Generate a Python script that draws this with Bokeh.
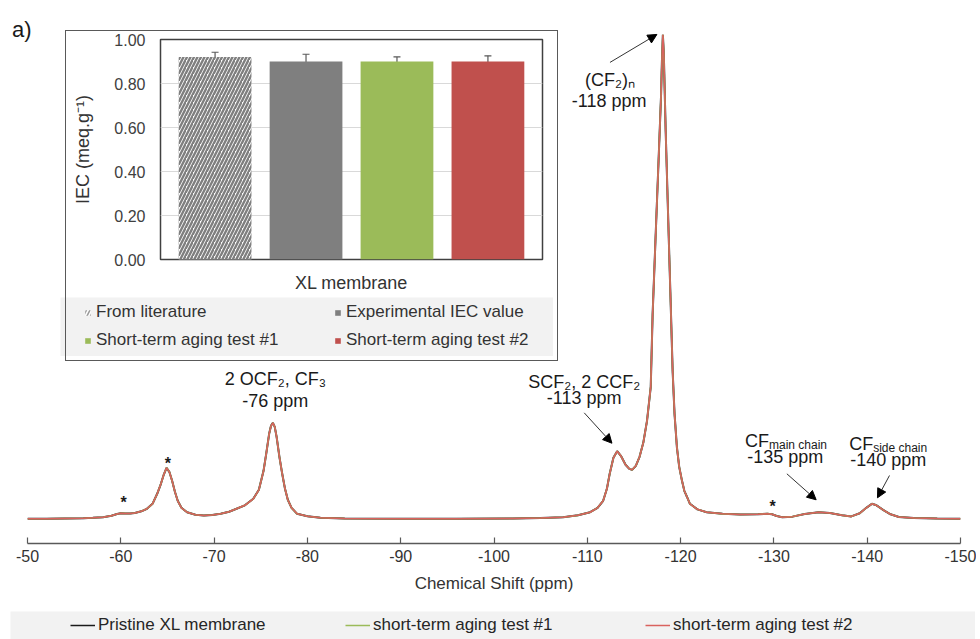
from bokeh.plotting import figure
from bokeh.models import (Range1d, FixedTicker, Label, Arrow, NormalHead, Whisker, TeeHead,
                          ColumnDataSource, Legend, LegendItem, NumeralTickFormatter, Div)
from bokeh.embed import file_html
from bokeh.resources import INLINE

FONT = "Liberation Sans"

# ---------------- data: 19F NMR spectra ----------------
ppm = [-50.0, -52.0, -54.0, -56.0, -57.0, -58.1, -59.0, -59.6, -60.0, -60.5, -61.0, -61.5,
       -62.2, -62.8, -63.4, -63.9, -64.3, -64.6, -64.9, -65.2, -65.5, -65.8, -66.1, -66.5,
       -67.1, -68.0, -68.9, -69.8, -70.7, -71.6, -72.4, -73.3, -74.2, -74.8, -75.3, -75.6,
       -75.9, -76.1, -76.3, -76.5, -76.7, -77.0, -77.3, -77.6, -77.9, -78.3, -78.9, -80.0,
       -81.4, -84.0, -90.0, -96.0, -102.0, -105.0, -107.4, -109.0, -110.3, -111.1, -111.7,
       -112.1, -112.4, -112.8, -113.2, -113.6, -114.1, -114.5, -114.8, -115.2, -115.6, -116.0,
       -116.4, -116.8, -117.0, -117.3, -117.6, -117.9, -118.0, -118.1, -118.2, -118.4, -118.65,
       -118.9, -119.15, -119.35, -119.6, -119.85, -120.15, -120.4, -120.7, -121.0, -121.8,
       -122.8, -124.5, -126.4, -128.3, -129.3, -129.8, -130.3, -130.9, -132.0, -133.3, -134.8,
       -136.0, -137.3, -138.3, -139.2, -139.9, -140.5, -141.0, -141.7, -142.5, -143.4, -145.0,
       -147.5, -150.0]
pristine = [0.00, 0.00, 0.06, 0.12, 0.21, 0.33, 0.62, 0.99, 1.16, 1.12, 1.10, 1.20,
            1.55, 2.07, 3.10, 5.17, 7.23, 9.09, 10.54, 9.71, 7.85, 5.58, 3.72, 2.27,
            1.36, 0.83, 0.68, 0.79, 1.03, 1.45, 2.07, 2.79, 4.13, 5.99, 9.92, 13.64,
            17.56, 19.21, 19.83, 19.01, 16.94, 12.81, 9.30, 6.20, 3.93, 2.27, 1.03, 0.52,
            0.21, 0.08, 0.00, 0.00, 0.06, 0.17, 0.33, 0.72, 1.36, 2.27, 3.72,
            6.20, 9.30, 12.60, 13.97, 13.02, 11.16, 10.33, 10.12, 10.95, 12.81, 15.70,
            20.25, 27.27, 42.15, 57.23, 72.11, 87.19, 94.63, 100.00, 96.07, 80.17, 63.43,
            46.90, 30.37, 21.69, 14.88, 10.74, 7.85, 5.79, 4.46, 3.10, 1.96,
            1.36, 1.03, 0.89, 0.93, 1.07, 0.95, 0.58, 0.33, 0.45, 0.99, 1.36,
            1.20, 0.72, 0.50, 1.14, 2.27, 3.10, 2.79, 1.86, 0.93, 0.37, 0.17,
            0.06, 0.00]
aging_test_1 = list(pristine)
aging_test_2 = list(pristine)
x_ticks = [-50, -60, -70, -80, -90, -100, -110, -120, -130, -140, -150]
series_names = ["Pristine XL membrane", "short-term aging test #1", "short-term aging test #2"]

# ---------------- data: IEC inset ----------------
iec_labels = ["From literature", "Experimental IEC value",
              "Short-term aging test #1", "Short-term aging test #2"]
iec_values = [0.92, 0.90, 0.90, 0.90]
iec_errors = [0.022, 0.033, 0.021, 0.026]
iec_ticks = [0.0, 0.2, 0.4, 0.6, 0.8, 1.0]

# ---------------- styles ----------------
line_colors = ["#1a1a1a", "#9bbb59", "#d9625e"]
line_widths = [2.0, 1.6, 1.5]
bar_colors = ["white", "#7f7f7f", "#9bbb59", "#c0504d"]
bar_hatch = ["right_diagonal_line", " ", " ", " "]
TXT = "#1a1a1a"
HATCH = dict(hatch_color="#7f7f7f", hatch_scale=7, hatch_weight=2.4)

# ================= main spectrum figure =================
p = figure(width=976, height=636, x_range=Range1d(-50, -150), y_range=Range1d(-5.10, 102.96),
           toolbar_location=None, output_backend="svg", y_axis_location=None,
           min_border_left=27, min_border_right=16, min_border_top=20, min_border_bottom=93,
           outline_line_color=None, background_fill_color="white", border_fill_color="white")
p.xgrid.visible = False
p.ygrid.visible = False
ax = p.xaxis[0]
ax.ticker = FixedTicker(ticks=x_ticks)
ax.major_label_overrides = {t: str(t) for t in x_ticks}
ax.major_tick_in = 6
ax.major_tick_out = 0
ax.minor_tick_in = 0
ax.minor_tick_out = 0
ax.axis_line_color = "#595959"
ax.axis_line_width = 1.3
ax.major_tick_line_color = "#595959"
ax.major_tick_line_width = 1.2
ax.major_label_text_font = FONT
ax.major_label_text_font_size = "16px"
ax.major_label_text_color = "#333333"
ax.major_label_standoff = 6
ax.axis_label = "Chemical Shift (ppm)"
ax.axis_label_text_font = FONT
ax.axis_label_text_font_size = "17px"
ax.axis_label_text_font_style = "normal"
ax.axis_label_text_color = "#333333"
ax.axis_label_standoff = 9

for ys, c, w in zip([pristine, aging_test_1, aging_test_2], line_colors, line_widths):
    p.line(ppm, ys, line_color=c, line_width=w)


def lab(x, y, t, size="18px", align="center", base="middle", **kw):
    p.add_layout(Label(x=x, y=y, text=t, text_font=FONT, text_font_size=size,
                       text_align=align, text_baseline=base, text_color=TXT, **kw))


def arr(x0, y0, x1, y1):
    p.add_layout(Arrow(x_start=x0, y_start=y0, x_end=x1, y_end=y1,
                       line_color="#333333", line_width=1,
                       end=NormalHead(size=9, fill_color="black", line_color="black", line_width=1)))


lab(-76.56, 28.99, "2 OCF\u2082, CF\u2083")
lab(-76.55, 24.44, "-76 ppm")
lab(-112.43, 90.76, "(CF\u2082)\u2099")
lab(-112.35, 86.43, "-118 ppm")
lab(-109.67, 28.37, "SCF\u2082, 2 CCF\u2082")
lab(-109.67, 25.06, "-113 ppm")
lab(-129.47, 16.18, "CF", align="right", base="alphabetic")
lab(-129.47, 15.25, "main chain", size="12px", align="left", base="alphabetic")
lab(-131.21, 12.87, "-135 ppm")
lab(-140.64, 15.56, "CF", align="right", base="alphabetic")
lab(-140.64, 14.63, "side chain", size="12px", align="left", base="alphabetic")
lab(-142.25, 12.05, "-140 ppm")
for sx, sy in [(-60.29, 4.13), (-65.05, 12.25), (-129.85, 3.31)]:
    lab(sx, sy, "*", size="16px", base="middle", y_offset=-4, text_font_style="bold")

arr(-112.43, 94.30, -117.46, 100.08)
arr(-109.67, 21.90, -112.64, 15.62)
arr(-131.39, 9.30, -134.53, 3.93)
arr(-142.39, 8.95, -141.10, 4.34)

panel_tag = Div(text="a)", width=30, height=28,
                styles={"position": "absolute", "left": "7px", "top": "9px",
                        "font-family": FONT, "font-size": "22px", "color": TXT})

# ================= inset bar chart =================
xs = list(range(len(iec_labels)))
src = ColumnDataSource(dict(x=xs, top=iec_values, color=bar_colors, hatch=bar_hatch,
                            upper=[v + e for v, e in zip(iec_values, iec_errors)],
                            lower=[v - e for v, e in zip(iec_values, iec_errors)]))
ins = figure(width=493, height=272, x_range=Range1d(-0.6, 3.6), y_range=Range1d(0, 1),
             toolbar_location=None, output_backend="svg",
             min_border_left=100, min_border_right=11, min_border_top=14, min_border_bottom=38,
             outline_line_color="#404040", outline_line_width=1.5,
             background_fill_color="white", border_fill_color="white",
             styles={"position": "absolute", "left": "60px", "top": "25px"})
ins.vbar(x="x", top="top", width=0.8, source=src, fill_color="color", line_color=None,
         hatch_pattern="hatch", **HATCH)
whead = dict(size=7, line_color="#595959", line_width=1.2)
ins.add_layout(Whisker(source=src, base="x", upper="upper", lower="lower",
                       line_color="#595959", line_width=1.2,
                       upper_head=TeeHead(**whead), lower_head=TeeHead(**whead)))
ins.xgrid.visible = False
ins.ygrid.grid_line_color = "#d9d9d9"
ins.ygrid.ticker = FixedTicker(ticks=iec_ticks)
ya = ins.yaxis[0]
ya.ticker = FixedTicker(ticks=iec_ticks)
ya.formatter = NumeralTickFormatter(format="0.00")
ya.axis_line_color = None
ya.major_tick_in = 0
ya.major_tick_out = 0
ya.minor_tick_in = 0
ya.minor_tick_out = 0
ya.major_label_standoff = 15
ya.major_label_text_font = FONT
ya.major_label_text_font_size = "16px"
ya.major_label_text_color = "#404040"
ya.axis_label = "IEC (meq.g\u207b\u00b9)"
ya.axis_label_text_font = FONT
ya.axis_label_text_font_size = "18px"
ya.axis_label_text_font_style = "normal"
ya.axis_label_text_color = "#333333"
ya.axis_label_standoff = 18
xa = ins.xaxis[0]
xa.ticker = FixedTicker(ticks=[])
xa.axis_line_color = None
xa.major_tick_in = 0
xa.major_tick_out = 0
xa.minor_tick_in = 0
xa.minor_tick_out = 0
xa.major_label_standoff = 0
xa.axis_label = "XL membrane"
xa.axis_label_text_font = FONT
xa.axis_label_text_font_size = "18px"
xa.axis_label_text_font_style = "normal"
xa.axis_label_text_color = "#333333"
xa.axis_label_standoff = 13

# inset legend band (its own small canvas; swatches use the bar data, kept off-range)
band1 = figure(width=493, height=59, toolbar_location=None, output_backend="svg",
               x_axis_location=None, y_axis_location=None, min_border=0,
               x_range=Range1d(100, 101), y_range=Range1d(100, 101), outline_line_color=None,
               background_fill_color="#f2f2f2", border_fill_color="#f2f2f2",
               styles={"position": "absolute", "left": "60px", "top": "297px"})
band1.xgrid.visible = False
band1.ygrid.visible = False
icons = []
for i, (c, h) in enumerate(zip(bar_colors, bar_hatch)):
    icons.append(band1.vbar(x=[xs[i]], top=[iec_values[i]], width=0.8, fill_color=c,
                            line_color=None, hatch_pattern=h, hatch_color="#9a9a9a",
                            hatch_scale=7, hatch_weight=1.6))


def small_legend(fig, items, loc, **kw):
    lg = Legend(items=items, location=loc, orientation="vertical", padding=0, margin=0,
                border_line_color=None, background_fill_alpha=0, spacing=0,
                label_text_font=FONT, **kw)
    fig.add_layout(lg, "center")


leg_kw = dict(glyph_width=7, glyph_height=7, label_standoff=5, label_height=28,
              label_text_font_size="17px", label_text_color="#333333")
small_legend(band1, [LegendItem(label=iec_labels[0], renderers=[icons[0]]),
                     LegendItem(label=iec_labels[2], renderers=[icons[2]])], (24, 2), **leg_kw)
small_legend(band1, [LegendItem(label=iec_labels[1], renderers=[icons[1]]),
                     LegendItem(label=iec_labels[3], renderers=[icons[3]])], (274, 2), **leg_kw)

inset_box = Div(text="", width=493, height=331,
                styles={"position": "absolute", "left": "60px", "top": "25px",
                        "border": "1px solid #595959", "box-sizing": "border-box",
                        "pointer-events": "none", "background": "transparent"})

# main legend band (swatches use the spectra, kept off-range)
band2 = figure(width=965, height=28, toolbar_location=None, output_backend="svg",
               x_axis_location=None, y_axis_location=None, min_border=0,
               x_range=Range1d(0, 1), y_range=Range1d(200, 201), outline_line_color=None,
               background_fill_color="#f2f2f2", border_fill_color="#f2f2f2",
               styles={"position": "absolute", "left": "10px", "top": "611px"})
band2.xgrid.visible = False
band2.ygrid.visible = False
for name, ys, c, lx in zip(series_names, [pristine, aging_test_1, aging_test_2],
                           line_colors, [60, 335, 635]):
    r = band2.line(ppm, ys, line_color=c, line_width=1.5)
    small_legend(band2, [LegendItem(label=name, renderers=[r])], (lx, 4),
                 glyph_width=25, glyph_height=20, label_standoff=3, label_height=20,
                 label_text_font_size="17px", label_text_color="#262626")

html = file_html([p, panel_tag, ins, band1, inset_box, band2], INLINE)
open("out.html", "w").write(html)
